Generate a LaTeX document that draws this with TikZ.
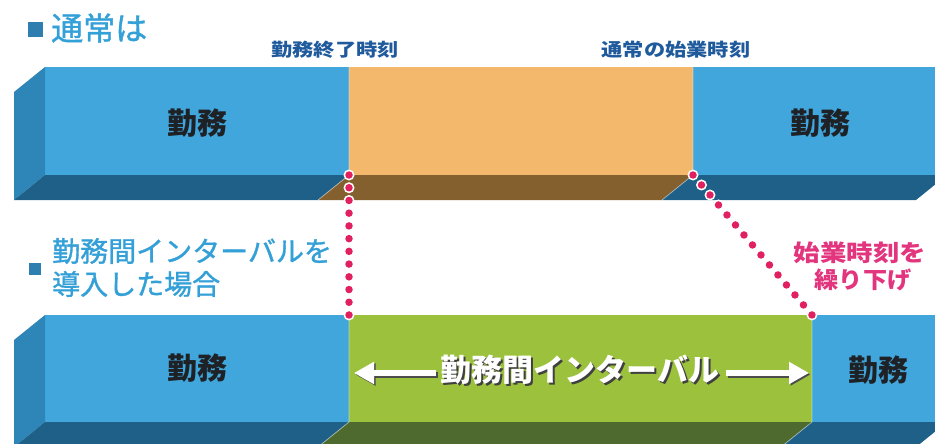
\documentclass[tikz,border=0pt]{standalone}
\usepackage{fontspec}
\setmainfont{Noto Sans CJK JP}
\newfontfamily\headfont[FakeBold=1.2]{Noto Sans CJK JP}
\usetikzlibrary{arrows.meta}
\definecolor{blueF}{HTML}{41A6DC}
\definecolor{blueL}{HTML}{2E86B8}
\definecolor{blueB}{HTML}{1E6088}
\definecolor{orgF}{HTML}{F3B86B}
\definecolor{orgB}{HTML}{84602F}
\definecolor{grnF}{HTML}{9CC23D}
\definecolor{grnB}{HTML}{4F6A2E}
\definecolor{headC}{HTML}{34A0D8}
\definecolor{sqC}{HTML}{2E7FB0}
\definecolor{timeC}{HTML}{1F5A9C}
\definecolor{pinkC}{HTML}{E2357E}
\definecolor{dotC}{HTML}{E0205F}
\definecolor{txtC}{HTML}{1E2226}
\newcommand\shadowtext[1]{\makebox[0pt][l]{\hspace{2pt}\raisebox{-2pt}{\textcolor{black!75}{#1}}}\textcolor{white}{#1}}
\tikzset{
  lbl/.style={inner sep=0, text=txtC, font=\fontsize{30}{34}\selectfont\bfseries},
  headtxt/.style={inner sep=0, anchor=west, text=headC},
  timetxt/.style={inner sep=0, text=timeC, font=\fontsize{18}{20}\selectfont\bfseries},
  pinktxt/.style={inner sep=0, text=pinkC, font=\fontsize{23}{26}\selectfont\bfseries},
  gtxt/.style={inner sep=0, font=\fontsize{31}{34}\selectfont\bfseries},
  sq/.style={inner sep=0, fill=sqC},
  sep/.style={draw=white, draw opacity=.45, line width=.8pt},
  arrW/.style={draw=white, line width=6pt, -{Triangle[width=21pt,length=20pt]}},
  arrS/.style={draw=black!70, line width=6pt, -{Triangle[width=21pt,length=20pt]}},
  dotW/.style={draw=white, line width=11pt, line cap=round},
  dotP/.style={draw=dotC, line width=7.5pt, line cap=round}
}
\begin{document}
\begin{tikzpicture}[x=1pt,y=-1pt]
\useasboundingbox (0,0) rectangle (935,444);
\clip (0,0) rectangle (935,444);
\fill[white] (0,0) rectangle (935,444);

% ---- top bar ----
\fill[blueF] (45,67) rectangle (349,175);
\fill[blueL] (45,67) -- (45,175) -- (14,200) -- (14,92) -- cycle;
\fill[blueB] (45,175) -- (349,175) -- (318,200) -- (14,200) -- cycle;
\fill[orgF] (349,67) rectangle (693,175);
\fill[orgB] (349,175) -- (693,175) -- (662,200) -- (318,200) -- cycle;
\fill[blueF] (693,67) rectangle (947,175);
\fill[blueB] (693,175) -- (947,175) -- (916,200) -- (662,200) -- cycle;
\draw[sep] (349,67) -- (349,175) -- (318,200);
\draw[sep] (693,67) -- (693,175) -- (662,200);

% ---- bottom bar ----
\fill[blueF] (45,315) rectangle (349,422);
\fill[blueL] (45,315) -- (45,422) -- (14,447) -- (14,340) -- cycle;
\fill[blueB] (45,422) -- (349,422) -- (318,447) -- (14,447) -- cycle;
\fill[grnF] (349,315) rectangle (812,422);
\fill[grnB] (349,422) -- (812,422) -- (781,447) -- (318,447) -- cycle;
\fill[blueF] (812,315) rectangle (947,422);
\fill[blueB] (812,422) -- (947,422) -- (916,447) -- (781,447) -- cycle;
\draw[sep] (349,315) -- (349,422) -- (318,447);
\draw[sep] (812,315) -- (812,422) -- (781,447);

% ---- headings ----
\node[sq, minimum size=15pt] (s1) at (35.5,29.5) {};
\node[headtxt, font=\fontsize{32}{36}\headfont] (h1) at (51,28) {通常は};
\node[sq, minimum size=12pt] (s2) at (35,269) {};
\node[headtxt, font=\fontsize{28}{30}\headfont] (h2a) at (52,251) {勤務間インターバルを};
\node[headtxt, font=\fontsize{28}{30}\headfont] (h2b) at (52,284) {導入した場合};

% ---- time labels ----
\node[timetxt] (t1) at (335,50) {\scalebox{1.18}[1]{勤務終了時刻}};
\node[timetxt] (t2) at (676,50) {\scalebox{1.18}[1]{通常の始業時刻}};

% ---- box labels ----
\node[lbl] (w1) at (197,123) {勤務};
\node[lbl] (w2) at (820,123) {勤務};
\node[lbl] (w3) at (197,368) {勤務};
\node[lbl] (w4) at (878,370) {勤務};

% ---- interval label ----
\coordinate (aLs) at (436,373);
\coordinate (aLe) at (354,373);
\coordinate (aRs) at (726,373);
\coordinate (aRe) at (809,373);
\draw[arrS] ([shift={(1.5,1.5)}]aLs) -- ([shift={(1.5,1.5)}]aLe);
\draw[arrS] ([shift={(1.5,1.5)}]aRs) -- ([shift={(1.5,1.5)}]aRe);
\draw[arrW] (aLs) -- (aLe);
\draw[arrW] (aRs) -- (aRe);
\node[gtxt] (gl) at (580,371) {\shadowtext{勤務間インターバル}};

% ---- pink labels ----
\node[pinktxt] (p1) at (860,253) {\scalebox{1.15}[1]{始業時刻を}};
\node[pinktxt] (p2) at (863,280) {\scalebox{1.05}[1]{繰り下げ}};

% ---- dotted guides ----
\coordinate (d1a) at (349,175);
\coordinate (d1b) at (349,315);
\coordinate (d2a) at (693,175);
\coordinate (d2b) at (812,315);
\draw[dotW, dash pattern=on 0pt off 12.727pt] (d1a) -- (d1b);
\draw[dotP, dash pattern=on 0pt off 12.727pt] (d1a) -- (d1b);
\draw[dotW, dash pattern=on 0pt off 13.12pt] (d2a) -- (d2b);
\draw[dotP, dash pattern=on 0pt off 13.12pt] (d2a) -- (d2b);
\end{tikzpicture}
\end{document}
